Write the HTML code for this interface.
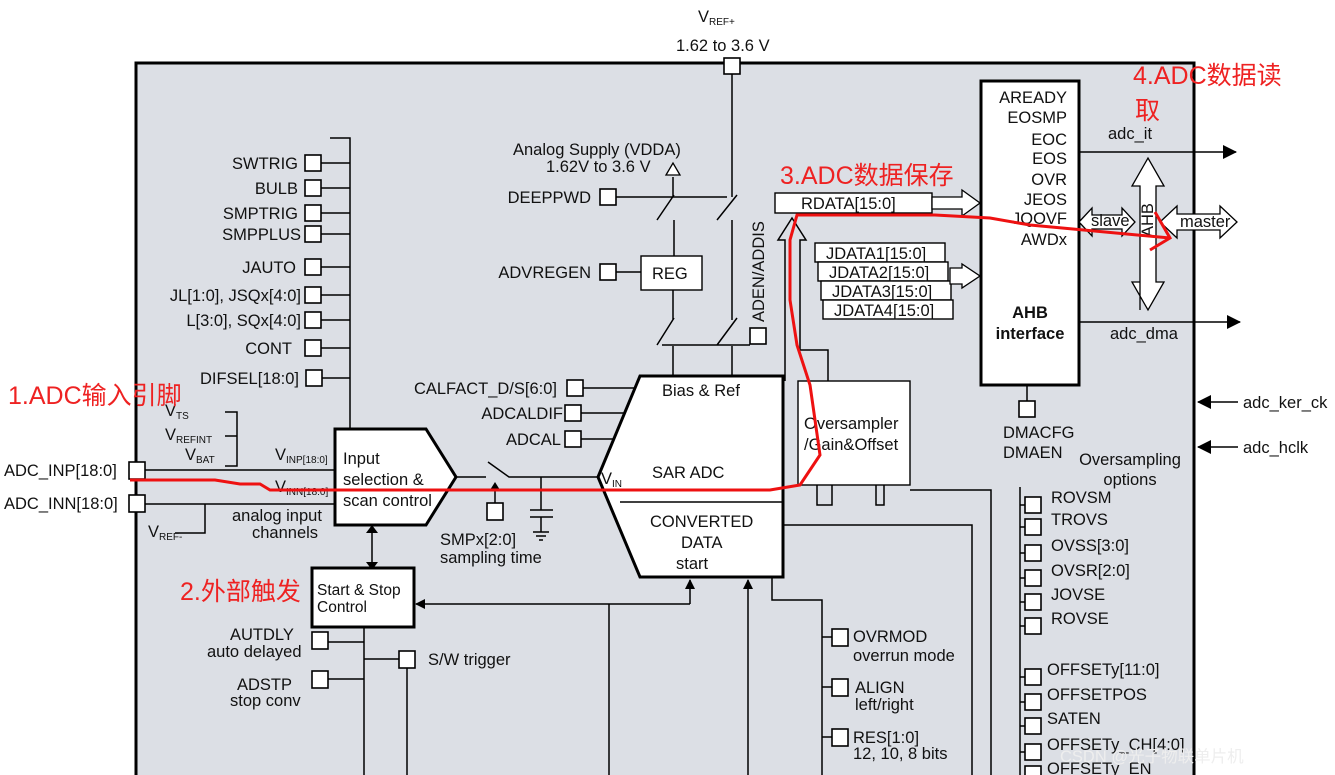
<!DOCTYPE html>
<html><head><meta charset="utf-8"><style>
html,body{margin:0;padding:0;background:#fff;width:1335px;height:775px;overflow:hidden}
svg{display:block}
text{font-family:"Liberation Sans","Noto Sans CJK SC",sans-serif;font-size:16.5px;fill:#111}
.r{fill:#ee2222;font-size:25px}
.s{font-size:15.5px}
</style></head><body>
<svg width="1335" height="775" viewBox="0 0 1335 775" xmlns="http://www.w3.org/2000/svg">
<defs>
<marker id="ah" markerWidth="10" markerHeight="10" refX="9" refY="5" orient="auto" markerUnits="userSpaceOnUse"><path d="M0,0 L10,5 L0,10 z" fill="#000"/></marker>
<marker id="ab" markerWidth="14" markerHeight="14" refX="13" refY="7" orient="auto" markerUnits="userSpaceOnUse"><path d="M0,0 L14,7 L0,14 z" fill="#000"/></marker>
</defs>
<rect x="136" y="63" width="1058" height="730" fill="#dcdfe5" stroke="#000" stroke-width="3"/>
<g stroke="#000" stroke-width="1.5" fill="none">
<path d="M330,138 H350 V430"/>
<path d="M321,163H350M321,188H350M321,213H350M321,234H350M321,267H350M321,295H350M321,320H350M321,348H350M321,378H350"/>
<path d="M225,412H237V466H225M225,436H237"/>
<path d="M145,470H335M145,504H335M175,533H205V504"/>
<path d="M456,477H486M488,462L509,477H598M541,477V510M530,510H553M530,517H553M541,517V532M533,532H549M536,536H546M539,540H543"/>
<path d="M495,503V488"/>
<path d="M372,527V568"/>
<path d="M583,388H634M581,413H624M581,439H614"/>
<path d="M673,177V197M674,220V256M657,220L674,195M616,197H727M717,220L737,195M732,74V197M732,220V320M673,290V320M657,345L674,318M717,345L737,318M662,345H750M673,346V376M732,346V376"/>
<path d="M616,272H641"/>
<path d="M364,627V775M328,642H364M328,679H364M364,659H399M407,667V775"/>
<path d="M690,604H416" marker-end="url(#ah)"/>
<path d="M690,604V580" marker-end="url(#ah)"/>
<path d="M609,604V775"/>
<path d="M748,775V580" marker-end="url(#ah)"/>
<path d="M772,577V600H822V775M822,637H832M822,687H832M822,737H832"/>
<path d="M783,525H972V775"/>
<path d="M817,485V505H832V485M876,485V505H884V485M910,490H991V775M1020,487V775"/>
<path d="M1020,505H1025M1020,527H1025M1020,553H1025M1020,578H1025M1020,602H1025M1020,626H1025M1020,677H1025M1020,702H1025M1020,726H1025M1020,752H1025"/>
<path d="M1027,385V401"/>
<path d="M1069,97H1079M1069,117H1079M1069,139H1079M1069,158H1079M1069,179H1079M1069,199H1079M1069,218H1079M1069,239H1079"/>
<path d="M1079,152H1236" marker-end="url(#ab)"/>
<path d="M1079,322H1240" marker-end="url(#ab)"/>
<path d="M1238,402H1198" marker-end="url(#ab)"/>
<path d="M1238,447H1198" marker-end="url(#ab)"/>
<path d="M785,381V240H778L792,218L806,240H800V350H828V381"/>
</g>
<path d="M666,175L673,163L680,175z" fill="#fff" stroke="#000" stroke-width="1.3"/>
<path d="M490,490L495,482L500,490z" fill="#000"/>
<path d="M366,533L372,525L378,533zM366,562L372,570L378,562z" fill="#000"/>
<g fill="#fff" stroke="#000" stroke-width="1.6">
<rect x="724" y="58" width="16" height="16"/>
<rect x="305" y="155" width="16" height="16"/><rect x="305" y="180" width="16" height="16"/><rect x="305" y="205" width="16" height="16"/><rect x="305" y="226" width="16" height="16"/>
<rect x="305" y="259" width="16" height="16"/><rect x="305" y="287" width="16" height="16"/><rect x="305" y="312" width="16" height="16"/><rect x="305" y="340" width="16" height="16"/><rect x="306" y="370" width="16" height="16"/>
<rect x="129" y="462" width="16" height="17"/><rect x="129" y="495" width="16" height="17"/>
<rect x="567" y="380" width="16" height="16"/><rect x="565" y="405" width="16" height="16"/><rect x="565" y="431" width="16" height="16"/>
<rect x="600" y="189" width="16" height="16"/><rect x="600" y="264" width="16" height="16"/>
<rect x="750" y="328" width="16" height="16"/>
<rect x="487" y="503" width="16" height="17"/>
<rect x="312" y="632" width="16" height="17"/><rect x="312" y="671" width="16" height="17"/><rect x="399" y="651" width="16" height="17"/>
<rect x="832" y="629" width="16" height="17"/><rect x="832" y="679" width="16" height="17"/><rect x="832" y="729" width="16" height="17"/>
<rect x="1019" y="401" width="16" height="16"/>
<rect x="1025" y="497" width="16" height="16"/><rect x="1025" y="519" width="16" height="16"/><rect x="1025" y="545" width="16" height="16"/><rect x="1025" y="570" width="16" height="16"/><rect x="1025" y="594" width="16" height="16"/><rect x="1025" y="618" width="16" height="16"/>
<rect x="1025" y="669" width="16" height="16"/><rect x="1025" y="694" width="16" height="16"/><rect x="1025" y="718" width="16" height="16"/><rect x="1025" y="744" width="16" height="16"/><rect x="1025" y="766" width="16" height="16"/>
<rect x="641" y="256" width="61" height="34" stroke-width="1.4"/>
<rect x="775" y="193" width="157" height="20" stroke-width="1.4"/>
<rect x="815" y="243" width="130" height="19" stroke-width="1.4"/>
<rect x="818" y="262" width="130" height="19" stroke-width="1.4"/>
<rect x="821" y="281" width="130" height="19" stroke-width="1.4"/>
<rect x="823" y="300" width="130" height="19" stroke-width="1.4"/>
<rect x="798" y="381" width="112" height="104" stroke-width="1.4"/>
</g>
<path d="M335,429H426L456,477L426,525H335z" fill="#fff" stroke="#000" stroke-width="3"/>
<rect x="312" y="568" width="102" height="59" fill="#fff" stroke="#000" stroke-width="3"/>
<path d="M640,376H783V577H640L598,477z" fill="#fff" stroke="#000" stroke-width="3"/>
<path d="M620,502H783" stroke="#000" stroke-width="1.5"/>
<rect x="981" y="81" width="98" height="304" fill="#fff" stroke="#000" stroke-width="3"/>
<g fill="#fff" stroke="#000" stroke-width="1.3">
<path d="M932,197H962V190L980,203L962,216V209H932z"/>
<path d="M950,268H962V264L980,276L962,288V284H950z"/>
<path d="M1140,310V186H1132L1148,158L1164,186H1156V282H1164L1148,310L1132,282H1140"/>
<path d="M1079,222L1092,208V215H1122V208L1135,222L1122,236V229H1092V236z"/>
<path d="M1160,222L1177,206V214H1220V206L1237,222L1220,238V230H1177V238z"/>
</g>
<text x="698" y="22">V<tspan font-size="10" dy="3">REF+</tspan></text>
<text x="676" y="51">1.62 to 3.6 V</text>
<g text-anchor="end">
<text x="298" y="169">SWTRIG</text><text x="298" y="194">BULB</text><text x="298" y="219">SMPTRIG</text><text x="301" y="240">SMPPLUS</text>
<text x="296" y="273">JAUTO</text><text x="301" y="301">JL[1:0], JSQx[4:0]</text><text x="301" y="326">L[3:0], SQx[4:0]</text>
<text x="292" y="354">CONT</text><text x="299" y="384">DIFSEL[18:0]</text>
<text x="557" y="394">CALFACT_D/S[6:0]</text><text x="563" y="419">ADCALDIF</text><text x="561" y="445">ADCAL</text>
<text x="591" y="203">DEEPPWD</text><text x="591" y="278">ADVREGEN</text>
<text x="1067" y="103">AREADY</text><text x="1067" y="123">EOSMP</text><text x="1067" y="145">EOC</text><text x="1067" y="164">EOS</text><text x="1067" y="185">OVR</text><text x="1067" y="205">JEOS</text><text x="1067" y="224">JQOVF</text><text x="1067" y="245">AWDx</text>
</g>
<text x="165" y="416">V<tspan font-size="10" dy="3">TS</tspan></text>
<text x="165" y="440">V<tspan font-size="10" dy="3">REFINT</tspan></text>
<text x="185" y="460">V<tspan font-size="10" dy="3">BAT</tspan></text>
<text x="4" y="476">ADC_INP[18:0]</text><text x="4" y="509">ADC_INN[18:0]</text>
<text x="148" y="537">V<tspan font-size="10" dy="3">REF-</tspan></text>
<text x="275" y="460">V<tspan font-size="10" dy="3">INP[18:0]</tspan></text>
<text x="275" y="492">V<tspan font-size="10" dy="3">INN[18:0]</tspan></text>
<text x="343" y="464">Input</text><text x="343" y="485">selection &amp;</text><text x="343" y="506">scan control</text>
<text x="232" y="521">analog input</text><text x="252" y="538">channels</text>
<text x="440" y="545">SMPx[2:0]</text><text x="440" y="563">sampling time</text>
<text x="317" y="595" class="s">Start &amp; Stop</text><text x="317" y="612" class="s">Control</text>
<text x="230" y="640">AUTDLY</text><text x="207" y="657">auto delayed</text>
<text x="237" y="690">ADSTP</text><text x="230" y="706">stop conv</text>
<text x="428" y="665">S/W trigger</text>
<text x="513" y="155">Analog Supply (VDDA)</text><text x="546" y="172">1.62V to 3.6 V</text>
<text x="652" y="279">REG</text>
<text transform="translate(764,322) rotate(-90)" font-size="14">ADEN/ADDIS</text>
<text x="662" y="396">Bias &amp; Ref</text>
<text x="652" y="478" font-size="23">SAR ADC</text>
<text x="601" y="484">V<tspan font-size="10" dy="3">IN</tspan></text>
<text x="650" y="527">CONVERTED</text><text x="681" y="548">DATA</text><text x="676" y="569">start</text>
<text x="801" y="209">RDATA[15:0]</text>
<text x="826" y="259">JDATA1[15:0]</text><text x="829" y="278">JDATA2[15:0]</text><text x="832" y="297">JDATA3[15:0]</text><text x="834" y="316">JDATA4[15:0]</text>
<text x="804" y="429">Oversampler</text><text x="804" y="450">/Gain&amp;Offset</text>
<text x="1030" y="318" text-anchor="middle" font-weight="bold">AHB</text>
<text x="1030" y="339" text-anchor="middle" font-weight="bold">interface</text>
<text x="1108" y="139">adc_it</text><text x="1110" y="339">adc_dma</text>
<text x="1091" y="226" font-size="12">slave</text>
<text x="1180" y="227">master</text>
<text transform="translate(1153,237) rotate(-90)" font-size="11">AHB</text>
<text x="1003" y="438">DMACFG</text><text x="1003" y="458">DMAEN</text>
<text x="1130" y="465" text-anchor="middle">Oversampling</text><text x="1130" y="485" text-anchor="middle">options</text>
<text x="1243" y="408">adc_ker_ck</text><text x="1243" y="453">adc_hclk</text>
<text x="1051" y="503">ROVSM</text><text x="1051" y="525">TROVS</text><text x="1051" y="551">OVSS[3:0]</text><text x="1051" y="576">OVSR[2:0]</text><text x="1051" y="600">JOVSE</text><text x="1051" y="624">ROVSE</text>
<text x="1047" y="675">OFFSETy[11:0]</text><text x="1047" y="700">OFFSETPOS</text><text x="1047" y="724">SATEN</text><text x="1047" y="750">OFFSETy_CH[4:0]</text><text x="1047" y="774">OFFSETy_EN</text>
<text x="853" y="642">OVRMOD</text><text x="853" y="661">overrun mode</text>
<text x="855" y="693">ALIGN</text><text x="855" y="710">left/right</text>
<text x="853" y="743">RES[1:0]</text><text x="853" y="759">12, 10, 8 bits</text>
<text class="r" x="8" y="404">1.ADC输入引脚</text>
<text class="r" x="180" y="600">2.外部触发</text>
<text class="r" x="780" y="184">3.ADC数据保存</text>
<text class="r" x="1133" y="84">4.ADC数据读</text>
<text class="r" x="1135" y="119">取</text>
<path d="M130,480H215L240,484H260L270,490H600H770L800,485L820,455L815,420L810,385L797,345L790,300L790,240L797,215H935L990,218L1030,225L1170,238M1155,212L1170,238L1150,250" fill="none" stroke="#ee1111" stroke-width="3"/>
<text x="1060" y="762" font-size="20" style="fill:#eeeeee">CSDN @光子物联单片机</text>
</svg>
</body></html>
